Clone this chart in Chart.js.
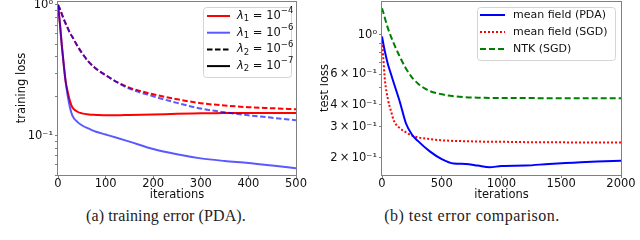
<!DOCTYPE html>
<html>
<head>
<meta charset="utf-8">
<script src="https://cdn.jsdelivr.net/npm/chart.js@4.4.0/dist/chart.umd.min.js"></script>
<style>
html, body { margin: 0; padding: 0; background: #fff; }
#wrap { position: relative; width: 640px; height: 240px; overflow: hidden; }
.panel { position: absolute; top: 0; width: 320px; height: 205px; }
.cap { position: absolute; top: 207px; text-align: center; font-family: "Liberation Serif", serif; font-size: 16px; color: #222; white-space: nowrap; }
</style>
</head>
<body>
<div id="wrap">
  <div class="panel" style="left:0"><canvas id="trainChart" width="320" height="205"></canvas></div>
  <div class="panel" style="left:320px"><canvas id="testChart" width="320" height="205"></canvas></div>
  <div class="cap" style="left:6px;width:320px;letter-spacing:0.1px">(a) training error (PDA).</div>
  <div class="cap" style="left:312px;width:320px;letter-spacing:0.5px">(b) test error comparison.</div>
</div>
<script>
// (a) training loss, PDA
const trainIters = [0, 4, 8, 12, 16, 20, 25, 30, 40, 50, 65, 80, 100, 125, 150, 200, 250, 300, 350, 400, 450, 500];
const redSolid   = [1.0, 0.72, 0.49, 0.35, 0.26, 0.22, 0.185, 0.165, 0.153, 0.148, 0.145, 0.144, 0.143, 0.143, 0.144, 0.145, 0.147, 0.148, 0.149, 0.149, 0.149, 0.149];
const blueSolid  = [1.0, 0.72, 0.49, 0.35, 0.26, 0.205, 0.165, 0.143, 0.128, 0.12, 0.113, 0.107, 0.102, 0.096, 0.090, 0.079, 0.072, 0.067, 0.064, 0.0617, 0.059, 0.0564];
const redDashed  = [1.0, 0.93, 0.85, 0.78, 0.72, 0.67, 0.61, 0.57, 0.49, 0.43, 0.365, 0.325, 0.29, 0.255, 0.233, 0.207, 0.190, 0.177, 0.170, 0.165, 0.162, 0.159];
const blueDashed = [1.0, 0.93, 0.85, 0.78, 0.72, 0.67, 0.61, 0.57, 0.49, 0.43, 0.365, 0.325, 0.29, 0.255, 0.229, 0.200, 0.178, 0.161, 0.151, 0.143, 0.137, 0.131];
const trainYTicks = [0.05, 0.06, 0.07, 0.08, 0.09, 0.1, 0.2, 0.3, 0.4, 0.5, 0.6, 0.7, 0.8, 0.9, 1];
const trainYLabels = { 1: '10⁰', 0.1: '10⁻¹' };
const trainLegendSub = ['1', '1', '2', '2'];
const trainLegendExp = ['−4', '−6', '−6', '−7'];

// (b) test loss comparison
const testIters = [0, 10, 25, 50, 75, 100, 150, 200, 250, 300, 400, 500, 600, 700, 800, 900, 1000, 1200, 1400, 1600, 1800, 2000];
const pdaLoss = [0.98, 0.9, 0.8, 0.68, 0.6, 0.53, 0.415, 0.315, 0.272, 0.25, 0.218, 0.197, 0.186, 0.185, 0.181, 0.177, 0.180, 0.181, 0.185, 0.188, 0.191, 0.193];
const sgdLoss = [0.92, 0.75, 0.55, 0.43, 0.37, 0.325, 0.295, 0.28, 0.268, 0.262, 0.256, 0.252, 0.250, 0.249, 0.248, 0.247, 0.247, 0.246, 0.246, 0.245, 0.245, 0.245];
const ntkLoss = [1.42, 1.35, 1.24, 1.09, 0.98, 0.89, 0.75, 0.645, 0.575, 0.53, 0.48, 0.46, 0.449, 0.443, 0.440, 0.439, 0.438, 0.438, 0.437, 0.437, 0.437, 0.437];
const testYTicks = [0.2, 0.3, 0.4, 0.5, 0.6, 0.7, 0.8, 0.9, 1];
const testYLabels = { 1: '10⁰', 0.6: '6\u2009×\u200910⁻¹', 0.4: '4\u2009×\u200910⁻¹', 0.3: '3\u2009×\u200910⁻¹', 0.2: '2\u2009×\u200910⁻¹' };
const testLegend = ['mean field (PDA)', 'mean field (SGD)', 'NTK (SGD)'];

const FONT = '"DejaVu Sans", sans-serif';
const AXIS_GRAY = '#808080';

function pts(xs, ys) {
    return xs.map((x, i) => ({ x: x, y: ys[i] }));
}

// desenha texto com partes em sub/sobrescrito
function drawRich(ctx, parts, x, y) {
    ctx.textBaseline = 'middle';
    ctx.textAlign = 'left';
    ctx.fillStyle = '#111';
    parts.forEach(p => {
        ctx.font = `${p.italic ? 'italic ' : ''}${p.size || 11}px ${FONT}`;
        ctx.fillText(p.t, x, y + (p.dy || 0));
        x += ctx.measureText(p.t).width;
    });
}

const boxLegend = {
    id: 'boxLegend',
    afterDatasetsDraw(chart, args, o) {
        const ctx = chart.ctx;
        ctx.save();
        ctx.fillStyle = 'rgba(255,255,255,0.8)';
        ctx.strokeStyle = '#d4d4d4';
        ctx.lineWidth = 1;
        ctx.beginPath();
        ctx.roundRect(o.x + 0.5, o.y + 0.5, o.w, o.h, 3);
        ctx.fill();
        ctx.stroke();
        o.items.forEach((it, i) => {
            const y = o.y + o.first + i * o.step;
            ctx.strokeStyle = it.color;
            ctx.lineWidth = 2;
            ctx.setLineDash(it.dash || []);
            ctx.beginPath();
            ctx.moveTo(o.x + o.lineX0, y);
            ctx.lineTo(o.x + o.lineX1, y);
            ctx.stroke();
            ctx.setLineDash([]);
            drawRich(ctx, it.parts, o.x + o.textX, y);
        });
        ctx.restore();
    }
};

// moldura dos eixos (as 4 bordas, como no matplotlib)
const frame = {
    id: 'frame',
    afterDraw(chart) {
        const { ctx, chartArea: a } = chart;
        ctx.save();
        ctx.strokeStyle = AXIS_GRAY;
        ctx.lineWidth = 1;
        ctx.strokeRect(Math.round(a.left) - 0.5, Math.round(a.top) + 0.5, Math.round(a.right - a.left) + 1, Math.round(a.bottom - a.top));
        ctx.restore();
    }
};

function makeChart(id, cfg) {
    const ctx = document.getElementById(id).getContext('2d');
    return new Chart(ctx, {
        type: 'line',
        data: { datasets: cfg.datasets },
        plugins: [frame, boxLegend],
        options: {
            responsive: false,
            animation: false,
            layout: { padding: { top: 1, right: cfg.padRight, bottom: 0, left: 0 } },
            elements: { point: { radius: 0 }, line: { borderWidth: 2, cubicInterpolationMode: 'monotone' } },
            plugins: { legend: { display: false }, tooltip: { enabled: false }, boxLegend: cfg.legend },
            scales: {
                x: {
                    type: 'linear', min: 0, max: cfg.xMax,
                    grid: { drawOnChartArea: false, tickLength: 3, color: AXIS_GRAY },
                    border: { display: false },
                    ticks: { stepSize: cfg.xStep, autoSkip: false, maxRotation: 0, padding: -1, color: '#111',
                             font: { family: FONT, size: 11.5 }, callback: v => String(v) },
                    title: { display: true, text: 'iterations', color: '#111', padding: { top: 0, bottom: 3 }, font: { family: FONT, size: 11.5 } },
                    afterFit: s => { s.height = 30; s.paddingLeft = 0; s.paddingRight = 0; }
                },
                y: {
                    type: 'logarithmic', min: cfg.yMin, max: cfg.yMax,
                    grid: { drawOnChartArea: false, tickLength: 3, color: AXIS_GRAY },
                    border: { display: false },
                    afterBuildTicks: s => { s.ticks = cfg.yTicks.map(v => ({ value: v })); },
                    ticks: { autoSkip: false, padding: 2, color: '#111', font: { family: FONT, size: 11.5 },
                             callback: v => cfg.yLabels[v] || '' },
                    title: { display: true, text: cfg.yTitle, color: '#111', padding: { top: cfg.yTitlePad, bottom: 0 }, font: { family: FONT, size: 11.5 } },
                    afterFit: s => { s.width = cfg.yWidth; s.paddingTop = 0; s.paddingBottom = 0; }
                }
            }
        }
    });
}

const LBLUE = 'rgba(0,0,255,0.65)';
const mathLabel = (sub, exp) => [
    { t: 'λ', italic: true, size: 11.5 },
    { t: sub, size: 8.5, dy: 3 },
    { t: ' = 10', size: 11.5 },
    { t: exp, size: 8.5, dy: -5 }
];

makeChart('trainChart', {
    xMax: 500, xStep: 100, yMin: 0.05, yMax: 1.07, yTicks: trainYTicks, yLabels: trainYLabels,
    yTitle: 'training loss', yTitlePad: 15, yWidth: 58, padRight: 24,
    datasets: [
        { data: pts(trainIters, blueSolid), borderColor: LBLUE },
        { data: pts(trainIters, blueDashed), borderColor: LBLUE, borderDash: [5.5, 2.5] },
        { data: pts(trainIters, redSolid), borderColor: '#ff0000' },
        { data: pts(trainIters, redDashed), borderColor: '#ff0000', borderDash: [5.5, 2.5] }
    ],
    legend: {
        x: 203, y: 7, w: 88, h: 70, first: 9, step: 16.7, lineX0: 4, lineX1: 27, textX: 34,
        items: [
            { color: '#ff0000', parts: mathLabel(trainLegendSub[0], trainLegendExp[0]) },
            { color: LBLUE, parts: mathLabel(trainLegendSub[1], trainLegendExp[1]) },
            { color: '#000', dash: [5.5, 2.5], parts: mathLabel(trainLegendSub[2], trainLegendExp[2]) },
            { color: '#000', parts: mathLabel(trainLegendSub[3], trainLegendExp[3]) }
        ]
    }
});

makeChart('testChart', {
    xMax: 2000, xStep: 500, yMin: 0.16, yMax: 1.56, yTicks: testYTicks, yLabels: testYLabels,
    yTitle: 'test loss', yTitlePad: -2, yWidth: 62, padRight: 19,
    datasets: [
        { data: pts(testIters, pdaLoss), borderColor: '#0000ff' },
        { data: pts(testIters, sgdLoss), borderColor: '#ff0000', borderDash: [2, 2] },
        { data: pts(testIters, ntkLoss), borderColor: '#008000', borderDash: [6, 3] }
    ],
    legend: {
        x: 157, y: 7, w: 138, h: 53, first: 8, step: 17, lineX0: 3, lineX1: 28, textX: 36,
        items: [
            { color: '#0000ff', parts: [{ t: testLegend[0] }] },
            { color: '#ff0000', dash: [2, 2], parts: [{ t: testLegend[1] }] },
            { color: '#008000', dash: [6, 3], parts: [{ t: testLegend[2] }] }
        ]
    }
});
</script>
</body>
</html>
